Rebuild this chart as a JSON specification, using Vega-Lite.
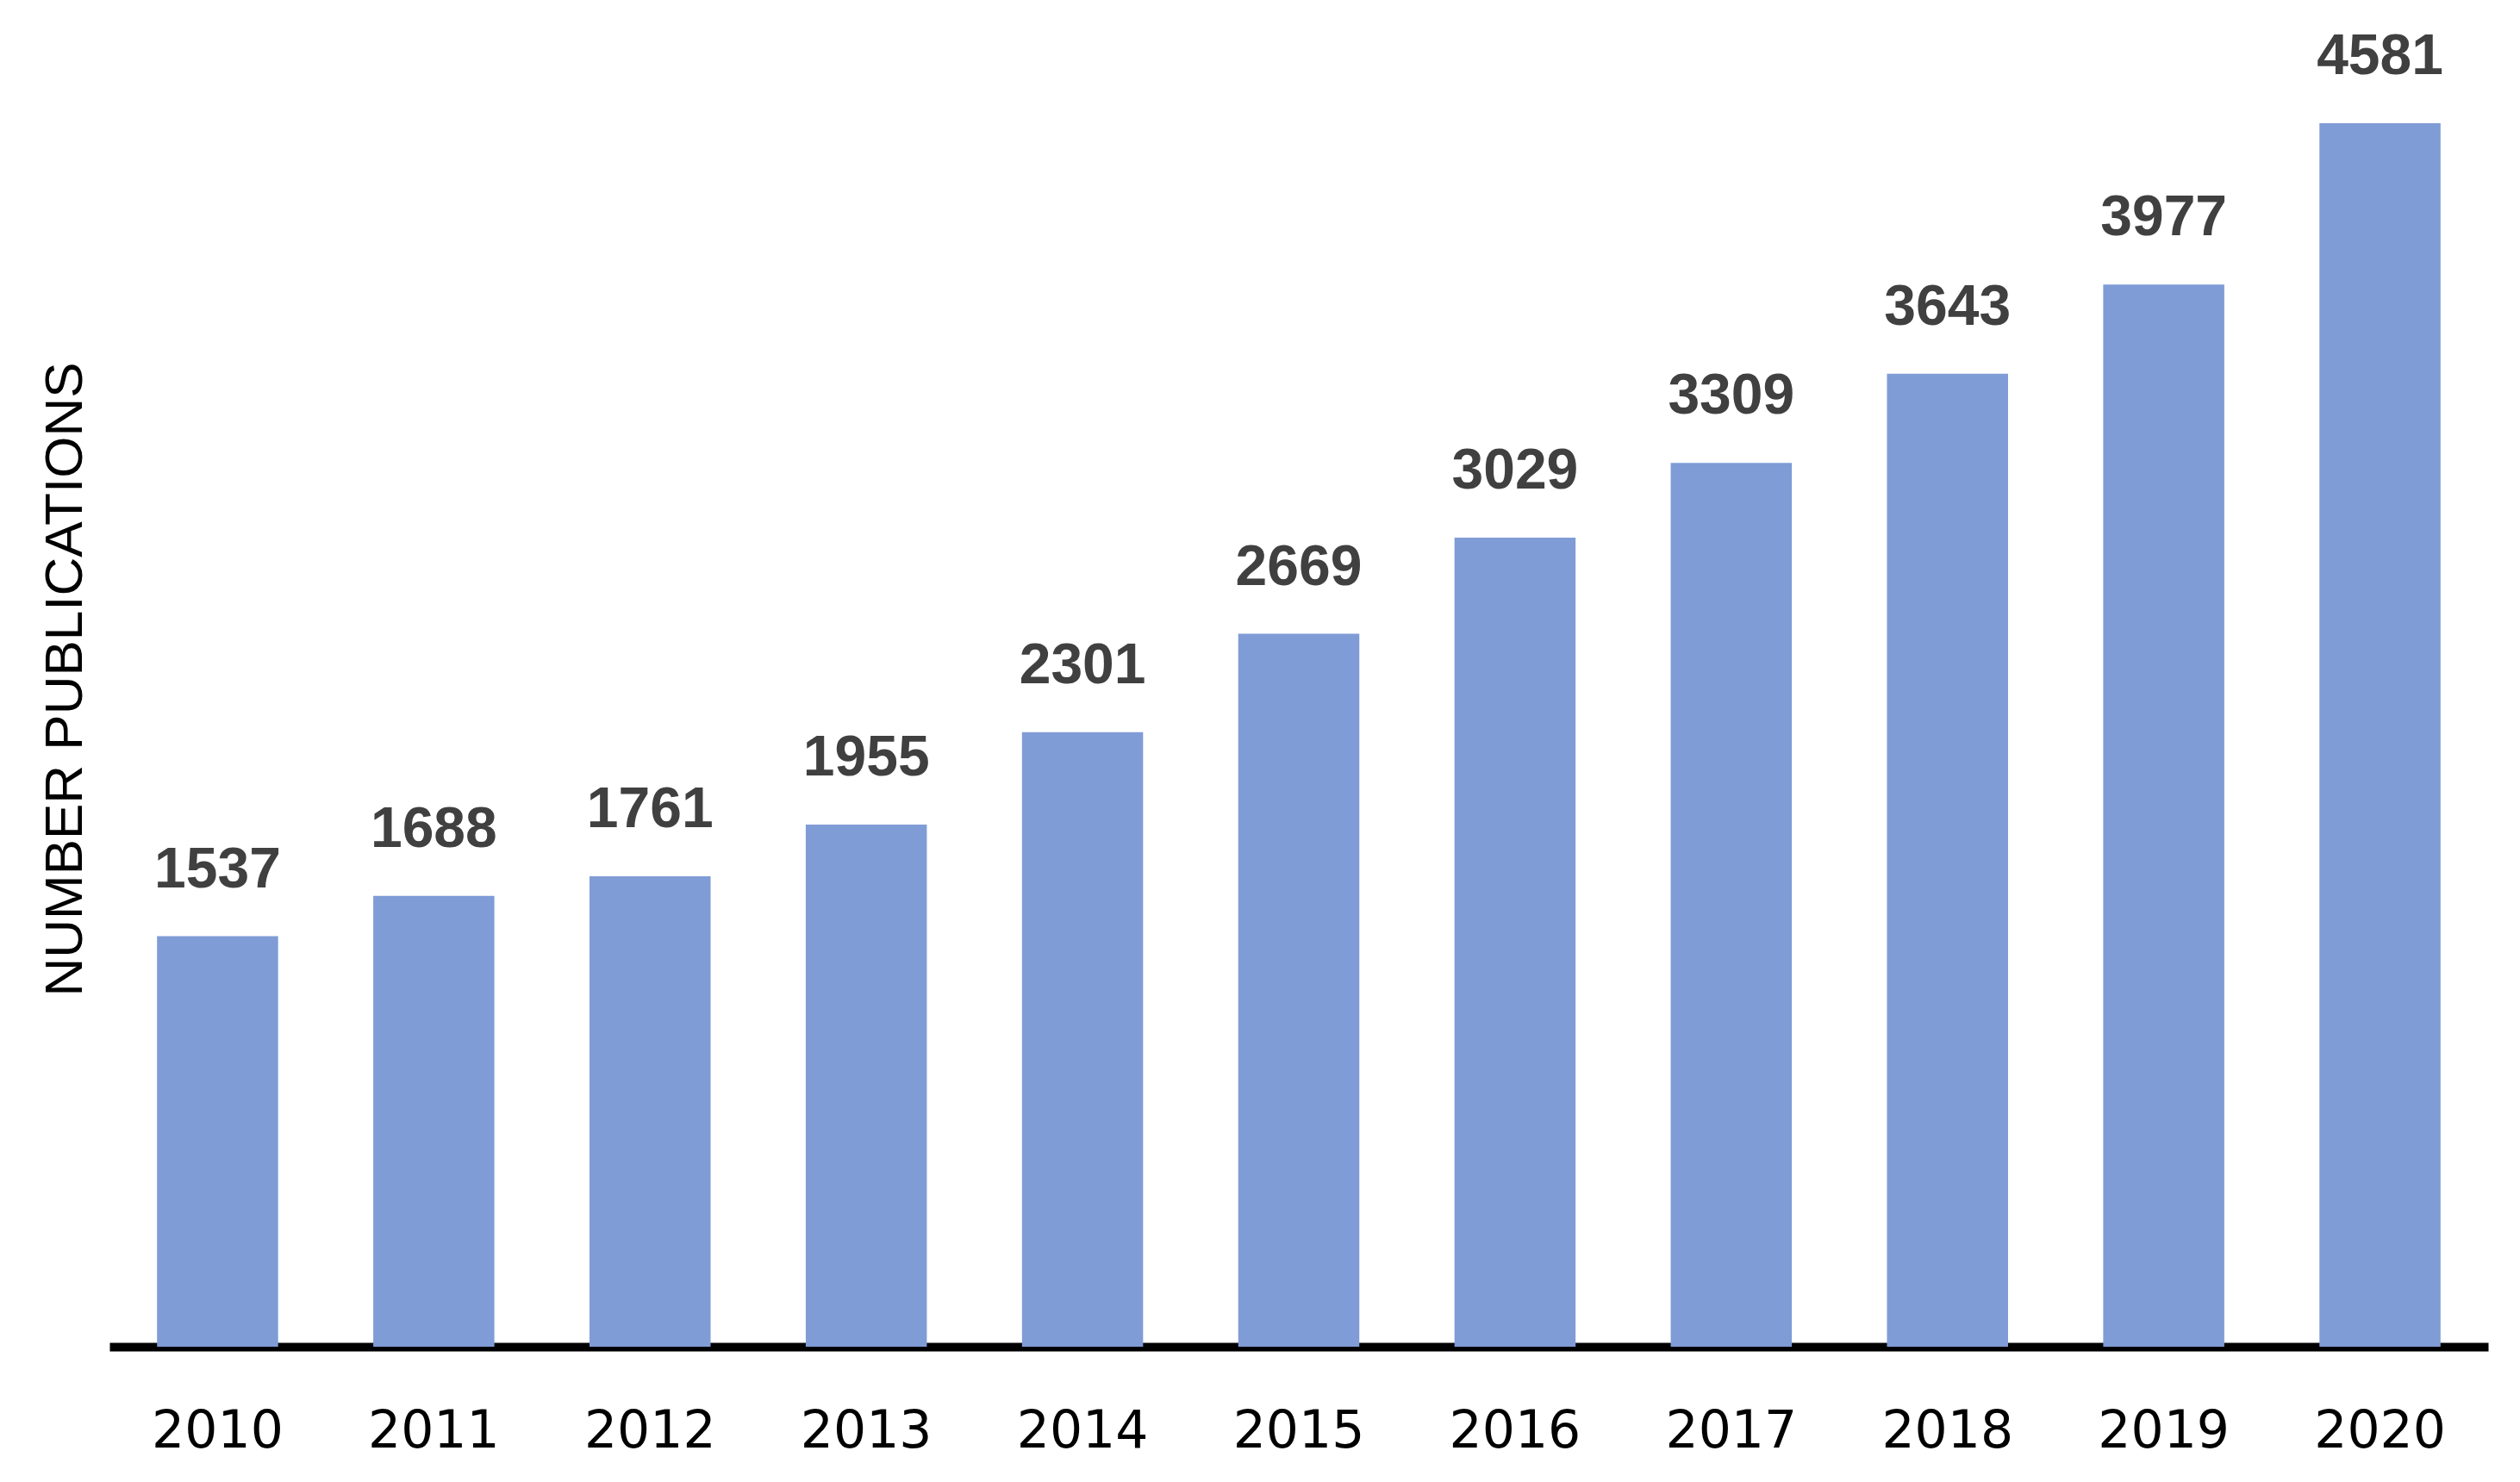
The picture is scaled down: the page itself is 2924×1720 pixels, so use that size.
{
  "$schema": "https://vega.github.io/schema/vega-lite/v6.json",
  "width": 2760,
  "height": 1550,
  "autosize": {"type": "none"},
  "padding": {"left": 127, "top": 13, "right": 37, "bottom": 157},
  "background": "white",
  "config": {"view": {"stroke": null}},
  "data": {"values": [
    {"year": "2010", "count": 1537},
    {"year": "2011", "count": 1688},
    {"year": "2012", "count": 1761},
    {"year": "2013", "count": 1955},
    {"year": "2014", "count": 2301},
    {"year": "2015", "count": 2669},
    {"year": "2016", "count": 3029},
    {"year": "2017", "count": 3309},
    {"year": "2018", "count": 3643},
    {"year": "2019", "count": 3977},
    {"year": "2020", "count": 4581}
  ]},
  "encoding": {
    "x": {
      "field": "year", "type": "ordinal",
      "scale": {"paddingInner": 0.44, "paddingOuter": 0.22},
      "axis": {
        "title": null, "labelAngle": 0, "labelFont": "DejaVu Sans", "labelFontSize": 60,
        "labelColor": "black", "ticks": false, "labelPadding": 69,
        "domainColor": "black", "domainWidth": 10, "grid": false
      }
    },
    "y": {
      "field": "count", "type": "quantitative",
      "scale": {"domain": [0, 5000], "nice": false},
      "axis": {
        "title": "NUMBER PUBLICATIONS", "titleFont": "Liberation Sans", "titleFontSize": 62,
        "titleFontWeight": "normal", "titleColor": "black", "titlePadding": 20,
        "labels": false, "ticks": false, "domain": false, "grid": false
      }
    }
  },
  "layer": [
    {"mark": {"type": "bar", "color": "#7F9CD6"}},
    {
      "mark": {"type": "text", "font": "Liberation Sans", "fontWeight": "bold", "fontSize": 66, "color": "#404040", "baseline": "alphabetic", "dy": -57},
      "encoding": {"text": {"field": "count", "type": "quantitative", "format": "d"}}
    }
  ]
}
